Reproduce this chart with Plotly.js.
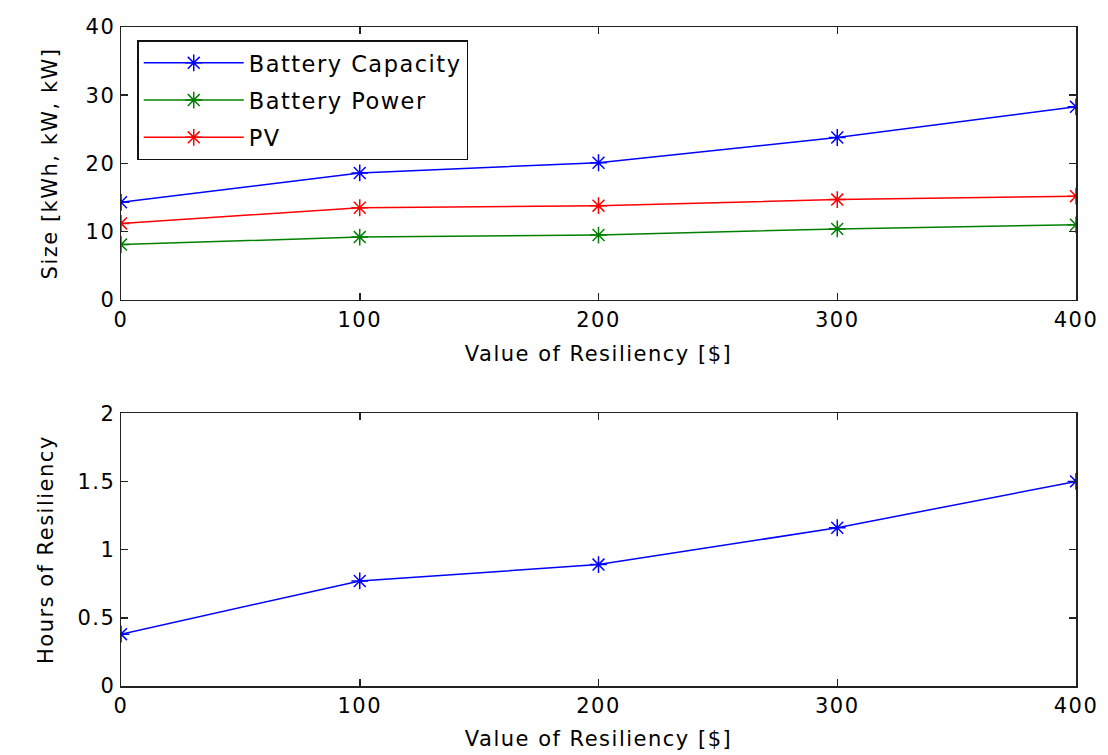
<!DOCTYPE html>
<html>
<head>
<meta charset="utf-8">
<script src="https://cdn.plot.ly/plotly-3.0.1.min.js"></script>
<style>
body{margin:0;padding:0;background:#fff}
#chart{width:1108px;height:755px}
text{letter-spacing:1.5px}
</style>
</head>
<body>
<div id="chart"></div>
<script>
const resiliencyValue = [0, 100, 200, 300, 400];
const batteryCapacity = [14.3, 18.6, 20.1, 23.8, 28.3];
const batteryPower = [8.1, 9.2, 9.5, 10.4, 11.0];
const pvSize = [11.2, 13.5, 13.8, 14.7, 15.2];
const hoursOfResiliency = [0.38, 0.77, 0.89, 1.16, 1.50];
const xTicks = [0, 100, 200, 300, 400];
const sizeTicks = [0, 10, 20, 30, 40];
const hoursTicks = [0, 0.5, 1, 1.5, 2];

const fam = 'DejaVu Sans, Arial, sans-serif';
const tickFont = {family: fam, size: 21, color: '#000'};
const titleFont = {family: fam, size: 21, color: '#000'};
function mk(color) {
  return {symbol: 'asterisk-open', size: 14, line: {color: color, width: 1.5}, color: color};
}
const traces = [
  {x: resiliencyValue, y: batteryCapacity, name: 'Battery Capacity', legendgroup: 'a', mode: 'lines+markers',
   line: {color: '#0000ff', width: 1.5}, marker: mk('#0000ff'), xaxis: 'x', yaxis: 'y'},
  {x: resiliencyValue, y: batteryPower, name: 'Battery Power', legendgroup: 'b', mode: 'lines+markers',
   line: {color: '#008000', width: 1.5}, marker: mk('#008000'), xaxis: 'x', yaxis: 'y'},
  {x: resiliencyValue, y: pvSize, name: 'PV', legendgroup: 'c', mode: 'lines+markers',
   line: {color: '#ff0000', width: 1.5}, marker: mk('#ff0000'), xaxis: 'x', yaxis: 'y'},
  {x: resiliencyValue, y: hoursOfResiliency, name: 'Hours', mode: 'lines+markers', showlegend: false,
   line: {color: '#0000ff', width: 1.5}, marker: mk('#0000ff'), xaxis: 'x2', yaxis: 'y2'}
];
const axBase = {
  showline: true, linecolor: '#222', linewidth: 1.5, mirror: 'ticks', ticks: 'inside', ticklen: 7,
  tickcolor: '#222', tickwidth: 1.5, showgrid: false, zeroline: false, tickfont: tickFont
};
const layout = {
  width: 1108, height: 755,
  margin: {l: 121, r: 32, t: 27, b: 69},
  paper_bgcolor: '#fff', plot_bgcolor: '#fff',
  font: tickFont,
  showlegend: true,
  legend: {x: 0.017, y: 0.98, xanchor: 'left', yanchor: 'top', xref: 'paper', yref: 'paper',
    bgcolor: '#fff', bordercolor: '#111', borderwidth: 1.5, font: {family: fam, size: 22.5, color: '#000'},
    itemwidth: 100, tracegroupgap: 5, traceorder: 'grouped'},
  xaxis: Object.assign({}, axBase, {domain: [0, 1], range: [0, 400], tickvals: xTicks, anchor: 'y',
    title: {text: 'Value of Resiliency [$]', font: titleFont, standoff: 16}}),
  yaxis: Object.assign({}, axBase, {domain: [0.586, 1], range: [0, 40], tickvals: sizeTicks, anchor: 'x',
    title: {text: 'Size [kWh, kW, kW]', font: titleFont, standoff: 22}}),
  xaxis2: Object.assign({}, axBase, {domain: [0, 1], range: [0, 400], tickvals: xTicks, anchor: 'y2',
    title: {text: 'Value of Resiliency [$]', font: titleFont, standoff: 14}}),
  yaxis2: Object.assign({}, axBase, {domain: [0, 0.414], range: [0, 2], tickvals: hoursTicks, anchor: 'x2',
    title: {text: 'Hours of Resiliency', font: titleFont, standoff: 18}})
};
Plotly.newPlot('chart', traces, layout, {displayModeBar: false, staticPlot: true});
</script>
</body>
</html>
